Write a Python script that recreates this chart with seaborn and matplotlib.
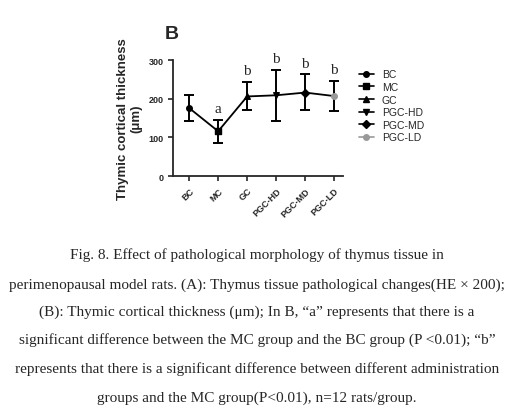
import matplotlib
matplotlib.use("Agg")
import matplotlib.pyplot as plt
from matplotlib.lines import Line2D
import seaborn as sns
import pandas as pd
import numpy as np

groups = ["BC", "MC", "GC", "PGC-HD", "PGC-MD", "PGC-LD"]
means = [176, 116, 206, 209, 216, 207]
lower = [143, 86, 171, 142, 170, 169]
upper = [210, 146, 243, 275, 263, 247]
sig = ["", "a", "b", "b", "b", "b"]
markers = ["o", "s", "^", "v", "D", "o"]
colors = ["black", "black", "black", "black", "black", "#999999"]

sns.set_style("ticks")
plt.rcParams['font.family'] = ['Liberation Sans', 'DejaVu Sans']
fig = plt.figure(figsize=(5.14, 4.10), dpi=100)
ax = fig.add_axes([0.337, 0.568, 0.33, 0.283])
df = pd.DataFrame({"x": np.arange(len(groups)), "y": means, "g": groups})
sns.lineplot(data=df, x="x", y="y", color="black", lw=1.3, ax=ax)
ax.errorbar(df["x"], means, yerr=[np.subtract(means, lower), np.subtract(upper, means)],
            fmt="none", ecolor="black", elinewidth=1.4, capsize=3.5, capthick=1.4)
handles = []
for i, g in enumerate(groups):
    ax.scatter(i, means[i], marker=markers[i], color=colors[i], s=16, zorder=3,
               clip_on=False)
    handles.append(Line2D([], [], color=colors[i], marker=markers[i], markersize=4,
                          lw=1.2, label=g))
    if sig[i]:
        ax.text(i, upper[i] + 12, sig[i], ha="center", va="bottom",
                family="Liberation Serif", fontsize=11)
ax.set_xlim(-0.55, 5.3)
ax.set_ylim(0, 300)
ax.set_yticks([0, 100, 200, 300])
ax.set_xticks(range(len(groups)))
ax.set_xticklabels(groups, rotation=45, ha="right", rotation_mode="anchor",
                   fontsize=6.5, fontweight="bold")
ax.tick_params(axis="y", labelsize=6.5, width=1.2)
ax.tick_params(axis="x", width=1.2)
for t in ax.get_yticklabels():
    t.set_fontweight("bold")
ax.set_xlabel("")
ax.set_ylabel("Thymic cortical thickness\n(μm)", fontsize=9.5, fontweight="bold")
sns.despine(ax=ax)
for s in ["left", "bottom"]:
    ax.spines[s].set_linewidth(1.3)
ax.legend(handles=handles, loc="upper left", bbox_to_anchor=(1.04, 1.0), frameon=False,
          fontsize=7.5, handlelength=1.4, labelspacing=0.25)
fig.text(0.32, 0.905, "B", fontsize=14, fontweight="bold")

caption = [
    "Fig. 8. Effect of pathological morphology of thymus tissue in",
    "perimenopausal model rats. (A): Thymus tissue pathological changes(HE × 200);",
    "(B): Thymic cortical thickness (μm); In B, “a” represents that there is a",
    "significant difference between the MC group and the BC group (P <0.01); “b”",
    "represents that there is a significant difference between different administration",
    "groups and the MC group(P<0.01), n=12 rats/group.",
]
caption_y = [255, 285, 312, 340, 369, 398]
for line, yp in zip(caption, caption_y):
    fig.text(0.5, 1 - yp / 410, line, ha="center", va="center",
             family="Liberation Serif", fontsize=11)
fig.savefig("out.png", dpi=100)
